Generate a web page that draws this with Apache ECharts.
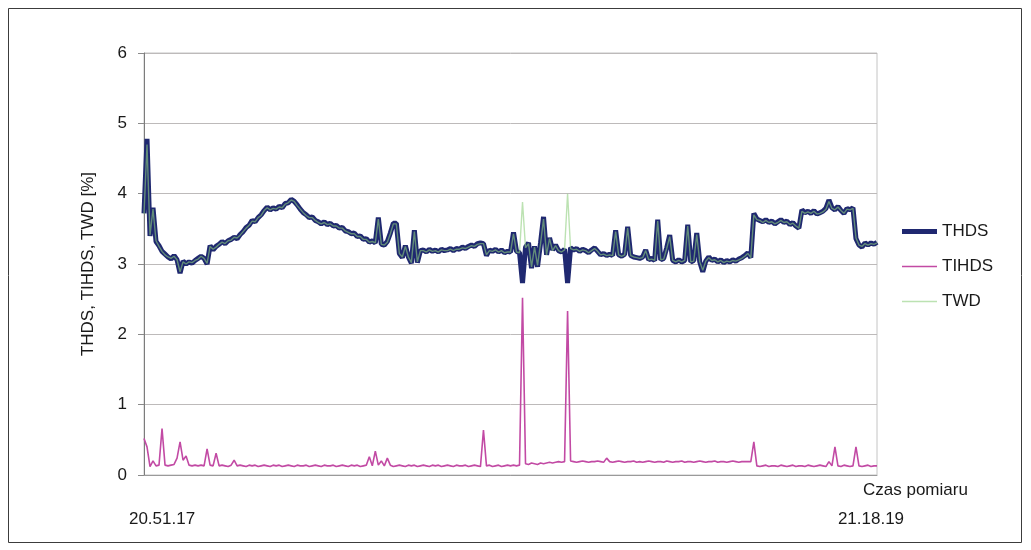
<!DOCTYPE html>
<html>
<head>
<meta charset="utf-8">
<script src="https://cdn.jsdelivr.net/npm/echarts@6/dist/echarts.min.js"></script>
<style>
  html, body { margin: 0; padding: 0; background: #ffffff; }
  #chart { width: 1031px; height: 550px; }
</style>
</head>
<body>
<div id="chart"></div>
<script>
// Harmonic distortion log, samples taken at a fixed interval between 20.51.17 and 21.18.19
const seriesNames = ['THDS', 'TIHDS', 'TWD'];

const thds = [
  3.72, 4.78, 3.40, 3.80, 3.32, 3.26, 3.18, 3.14, 3.10, 3.07,
  3.12, 3.06, 2.87, 3.04, 3.00, 3.03, 3.01, 3.05, 3.08, 3.11,
  3.08, 3.00, 3.26, 3.20, 3.25, 3.28, 3.32, 3.29, 3.33, 3.35,
  3.38, 3.36, 3.42, 3.46, 3.52, 3.55, 3.62, 3.60, 3.66, 3.70,
  3.76, 3.81, 3.77, 3.80, 3.78, 3.82, 3.80, 3.86, 3.87, 3.92,
  3.89, 3.84, 3.78, 3.73, 3.70, 3.66, 3.67, 3.62, 3.60, 3.57,
  3.60, 3.56, 3.58, 3.54, 3.55, 3.51, 3.52, 3.47, 3.46, 3.43,
  3.44, 3.39, 3.40, 3.35, 3.36, 3.31, 3.33, 3.30, 3.66, 3.28,
  3.27, 3.32, 3.44, 3.58, 3.58, 3.15, 3.09, 3.26, 3.10, 3.01,
  3.48, 3.02, 3.19, 3.20, 3.17, 3.21, 3.18, 3.20, 3.17, 3.21,
  3.19, 3.20, 3.22, 3.19, 3.22, 3.21, 3.24, 3.22, 3.25, 3.27,
  3.25, 3.29, 3.30, 3.29, 3.12, 3.20, 3.18, 3.21, 3.17, 3.20,
  3.16, 3.18, 3.17, 3.45, 3.18, 3.16, 2.73, 3.24, 3.30, 2.94,
  3.25, 2.96, 3.30, 3.67, 3.13, 3.37, 3.20, 3.27, 3.19, 3.17,
  3.21, 2.73, 3.23, 3.20, 3.22, 3.18, 3.21, 3.19, 3.16, 3.20,
  3.23, 3.18, 3.13, 3.15, 3.12, 3.14, 3.12, 3.48, 3.13, 3.11,
  3.14, 3.53, 3.12, 3.10, 3.09, 3.08, 3.10, 3.20, 3.06, 3.08,
  3.05, 3.63, 3.06, 3.08, 3.23, 3.41, 3.05, 3.03, 3.06, 3.03,
  3.05, 3.56, 3.03, 3.05, 3.44, 3.03, 2.89, 3.04, 3.10, 3.05,
  3.07, 3.03, 3.06, 3.02, 3.05, 3.03, 3.06, 3.04, 3.07, 3.09,
  3.12, 3.16, 3.09, 3.72, 3.64, 3.62, 3.60, 3.63, 3.59, 3.61,
  3.57, 3.60, 3.63, 3.59, 3.61, 3.56, 3.59, 3.54, 3.51, 3.77,
  3.73, 3.75, 3.72, 3.76, 3.71, 3.73, 3.75, 3.79, 3.91, 3.80,
  3.77, 3.82, 3.76, 3.72, 3.79, 3.77, 3.80, 3.36, 3.27, 3.24,
  3.30, 3.27, 3.30, 3.28, 3.31
];

const tihds = [
  0.52, 0.40, 0.12, 0.20, 0.13, 0.14, 0.66, 0.14, 0.13, 0.14,
  0.15, 0.24, 0.47, 0.21, 0.27, 0.14, 0.13, 0.14, 0.13, 0.14,
  0.13, 0.37, 0.14, 0.13, 0.31, 0.13, 0.14, 0.13, 0.12, 0.14,
  0.21, 0.13, 0.14, 0.13, 0.12, 0.14, 0.13, 0.14, 0.12, 0.13,
  0.14, 0.13, 0.12, 0.14, 0.13, 0.14, 0.12, 0.13, 0.14, 0.13,
  0.12, 0.14, 0.13, 0.13, 0.14, 0.12, 0.13, 0.14, 0.13, 0.12,
  0.14, 0.13, 0.13, 0.14, 0.12, 0.13, 0.14, 0.13, 0.12, 0.14,
  0.13, 0.14, 0.12, 0.13, 0.14, 0.26, 0.13, 0.34, 0.14, 0.20,
  0.13, 0.24, 0.14, 0.12, 0.13, 0.14, 0.13, 0.12, 0.14, 0.13,
  0.14, 0.12, 0.13, 0.14, 0.13, 0.12, 0.14, 0.13, 0.14, 0.12,
  0.13, 0.14, 0.13, 0.12, 0.14, 0.13, 0.13, 0.14, 0.12, 0.13,
  0.14, 0.13, 0.12, 0.64, 0.13, 0.14, 0.12, 0.13, 0.14, 0.12,
  0.13, 0.14, 0.13, 0.14, 0.13, 0.14, 2.52, 0.16, 0.15, 0.17,
  0.16, 0.15, 0.17, 0.16, 0.17, 0.18, 0.17, 0.18, 0.19, 0.18,
  0.19, 2.33, 0.20, 0.19, 0.18, 0.19, 0.20, 0.19, 0.18, 0.19,
  0.19, 0.20, 0.19, 0.18, 0.24, 0.19, 0.18, 0.19, 0.20, 0.19,
  0.18, 0.19, 0.19, 0.20, 0.18, 0.19, 0.18, 0.19, 0.20, 0.19,
  0.18, 0.19, 0.19, 0.18, 0.20, 0.19, 0.18, 0.19, 0.19, 0.20,
  0.18, 0.19, 0.19, 0.18, 0.19, 0.20, 0.19, 0.18, 0.19, 0.19,
  0.20, 0.18, 0.19, 0.19, 0.18, 0.19, 0.20, 0.19, 0.18, 0.19,
  0.19, 0.19, 0.19, 0.47, 0.13, 0.12, 0.13, 0.14, 0.12, 0.13,
  0.13, 0.12, 0.14, 0.13, 0.12, 0.13, 0.14, 0.12, 0.13, 0.13,
  0.12, 0.14, 0.13, 0.12, 0.13, 0.14, 0.13, 0.12, 0.19, 0.13,
  0.40, 0.13, 0.12, 0.14, 0.13, 0.12, 0.13, 0.40, 0.13, 0.12,
  0.13, 0.14, 0.12, 0.13, 0.13
];

const twd = [
  3.71, 4.70, 3.41, 3.78, 3.33, 3.25, 3.18, 3.13, 3.10, 3.08,
  3.11, 3.06, 2.89, 3.03, 3.00, 3.03, 3.02, 3.05, 3.07, 3.11,
  3.08, 3.01, 3.25, 3.21, 3.24, 3.28, 3.31, 3.29, 3.33, 3.34,
  3.38, 3.37, 3.41, 3.46, 3.51, 3.55, 3.61, 3.60, 3.66, 3.69,
  3.76, 3.80, 3.77, 3.79, 3.78, 3.81, 3.80, 3.85, 3.87, 3.91,
  3.89, 3.83, 3.78, 3.73, 3.69, 3.66, 3.66, 3.62, 3.59, 3.57,
  3.59, 3.56, 3.57, 3.54, 3.54, 3.51, 3.51, 3.47, 3.45, 3.43,
  3.43, 3.39, 3.39, 3.35, 3.35, 3.31, 3.32, 3.30, 3.64, 3.28,
  3.27, 3.31, 3.43, 3.57, 3.57, 3.15, 3.10, 3.25, 3.10, 3.02,
  3.46, 3.03, 3.19, 3.19, 3.17, 3.20, 3.18, 3.19, 3.17, 3.20,
  3.19, 3.19, 3.21, 3.19, 3.21, 3.21, 3.23, 3.22, 3.24, 3.26,
  3.25, 3.28, 3.29, 3.29, 3.13, 3.19, 3.18, 3.20, 3.17, 3.19,
  3.16, 3.17, 3.17, 3.43, 3.17, 3.16, 3.88, 3.23, 3.29, 2.96,
  3.24, 2.98, 3.29, 3.64, 3.13, 3.36, 3.19, 3.26, 3.19, 3.17,
  3.20, 4.00, 3.22, 3.20, 3.21, 3.18, 3.20, 3.19, 3.16, 3.19,
  3.22, 3.18, 3.13, 3.14, 3.12, 3.13, 3.12, 3.46, 3.13, 3.11,
  3.13, 3.51, 3.12, 3.10, 3.09, 3.08, 3.09, 3.19, 3.06, 3.07,
  3.05, 3.61, 3.06, 3.07, 3.22, 3.39, 3.05, 3.03, 3.05, 3.03,
  3.05, 3.54, 3.03, 3.04, 3.42, 3.03, 2.91, 3.04, 3.09, 3.05,
  3.06, 3.03, 3.05, 3.02, 3.04, 3.03, 3.05, 3.04, 3.06, 3.08,
  3.11, 3.15, 3.09, 3.70, 3.63, 3.62, 3.59, 3.62, 3.59, 3.60,
  3.57, 3.59, 3.62, 3.59, 3.60, 3.56, 3.58, 3.54, 3.51, 3.75,
  3.72, 3.74, 3.72, 3.75, 3.71, 3.72, 3.74, 3.78, 3.89, 3.79,
  3.77, 3.81, 3.76, 3.72, 3.78, 3.77, 3.79, 3.37, 3.27, 3.25,
  3.29, 3.27, 3.29, 3.28, 3.30
];

// Time stamps printed under the axis and the sample they belong to
const timeLabels = ['20.51.17', '21.18.19'];
const timeLabelSamples = [6, 242];

// Value axis ticks
const yTicks = [0, 1, 2, 3, 4, 5, 6];

const FONT = '"Liberation Sans", Arial, Helvetica, sans-serif';
const FONT_SIZE = 17;
const colors = { THDS: '#1f2870', TIHDS: '#c24aa4', TWD: '#8fcf7f' };
const widths = { THDS: 5, TIHDS: 1.6, TWD: 1.4 };

const toPairs = arr => arr.map((v, i) => [i, v]);

// Flat bar icon for the legend, as thick as the series line
const barIcon = w => 'path://M0,0H35V' + w + 'H0Z';

const chart = echarts.init(document.getElementById('chart'), null, { renderer: 'canvas' });

chart.setOption({
  animation: false,
  backgroundColor: '#ffffff',
  textStyle: { fontFamily: FONT },
  graphic: [{
    type: 'rect',
    shape: { x: 8.5, y: 8.5, width: 1013, height: 534 },
    style: { fill: 'none', stroke: '#3c3c3c', lineWidth: 1 },
    silent: true
  }],
  grid: {
    left: 144, right: 154, top: 53, bottom: 75,
    show: true, borderColor: '#c4c4c4', borderWidth: 1, backgroundColor: 'transparent'
  },
  legend: {
    orient: 'vertical',
    left: 897,
    top: 218,
    itemWidth: 35,
    itemHeight: 14,
    itemGap: 18,
    symbolKeepAspect: true,
    data: seriesNames.map(n => ({
      name: n,
      icon: barIcon(widths[n]),
      itemStyle: { color: colors[n], opacity: n === 'TWD' ? 0.6 : 1 }
    })),
    textStyle: { fontFamily: FONT, fontSize: FONT_SIZE, color: '#1a1a1a' }
  },
  xAxis: {
    type: 'value',
    min: 0,
    max: thds.length - 1,
    name: 'Czas pomiaru',
    nameLocation: 'end',
    nameGap: -14,
    nameTextStyle: { fontFamily: FONT, fontSize: FONT_SIZE, color: '#1a1a1a', verticalAlign: 'top', padding: [7, 0, 0, 0] },
    axisLine: { show: true, lineStyle: { color: '#9a9a9a', width: 1 } },
    axisTick: { show: false },
    splitLine: { show: false },
    axisLabel: {
      customValues: timeLabelSamples,
      formatter: v => timeLabels[timeLabelSamples.indexOf(v)] || '',
      margin: 36,
      fontFamily: FONT,
      fontSize: FONT_SIZE,
      color: '#1a1a1a'
    }
  },
  yAxis: {
    type: 'value',
    min: yTicks[0],
    max: yTicks[yTicks.length - 1],
    interval: 1,
    name: 'THDS, TIHDS, TWD [%]',
    nameLocation: 'middle',
    nameGap: 47,
    nameTextStyle: { fontFamily: FONT, fontSize: FONT_SIZE, color: '#1a1a1a' },
    axisLine: { show: true, lineStyle: { color: '#7c7c7c', width: 1 } },
    axisTick: { show: true, length: 6, lineStyle: { color: '#8a8a8a' } },
    axisLabel: { margin: 17, fontFamily: FONT, fontSize: FONT_SIZE, color: '#1a1a1a' },
    splitLine: { show: true, lineStyle: { color: '#bdbaba', width: 1 } }
  },
  series: [
    {
      name: 'THDS', type: 'line', data: toPairs(thds),
      symbol: 'none', color: colors.THDS,
      lineStyle: { width: widths.THDS, color: colors.THDS, join: 'bevel' },
      z: 2
    },
    {
      name: 'TIHDS', type: 'line', data: toPairs(tihds),
      symbol: 'none', color: colors.TIHDS,
      lineStyle: { width: widths.TIHDS, color: colors.TIHDS },
      z: 3
    },
    {
      name: 'TWD', type: 'line', data: toPairs(twd),
      symbol: 'none', color: colors.TWD,
      lineStyle: { width: widths.TWD, color: colors.TWD, opacity: 0.6 },
      z: 4
    }
  ]
});
</script>
</body>
</html>
